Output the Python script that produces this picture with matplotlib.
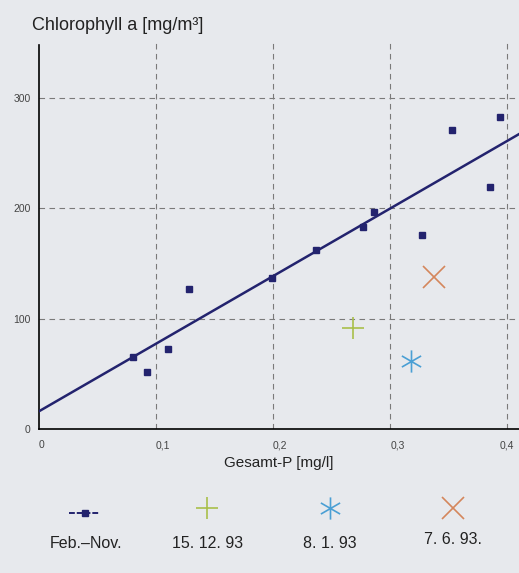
import matplotlib.pyplot as plt
from matplotlib.path import Path
import numpy as np

plt.rcParams['font.family'] = ['Liberation Sans', 'DejaVu Sans']

# Feb.-Nov. Messwerte
gesamt_p = [0.080, 0.092, 0.110, 0.128, 0.199, 0.237, 0.277, 0.286, 0.327, 0.353, 0.385, 0.394]
chl_a = [65, 52, 72, 127, 137, 162, 183, 196, 176, 271, 219, 282]

# Regressionsgerade
intercept = 16
slope = 612

# Sternsymbol mit senkrechtem Arm
c30, s30 = np.cos(np.pi / 6), 0.5
stern = Path([(0, -1), (0, 1), (-c30, -s30), (c30, s30), (-c30, s30), (c30, -s30)],
             [Path.MOVETO, Path.LINETO] * 3)

# Einzeltermine
einzel_labels = ["15. 12. 93", "8. 1. 93", "7. 6. 93."]
einzel_p = [0.268, 0.318, 0.337]
einzel_chl = [91, 62, 138]
einzel_marker = ["+", stern, "x"]
einzel_farbe = ["#a9bf4a", "#4a9fd4", "#d4865c"]

x_ticks = [0, 0.1, 0.2, 0.3, 0.4]
x_ticklabels = ["0", "0,1", "0,2", "0,3", "0,4"]
y_ticks = [0, 100, 200, 300]

bg = "#e7e9ed"
navy = "#23236e"

fig = plt.figure(figsize=(5.19, 5.73), dpi=100, facecolor=bg)
ax = fig.add_axes([0.075, 0.2513, 0.925, 0.6787])
ax.set_facecolor(bg)
ax.set_xlim(0, 0.41)
ax.set_ylim(0, 352)

# Gitter
for xt in x_ticks[1:]:
    ax.axvline(xt, color="#7a7a7a", lw=0.8, ls=(0, (5, 4)), zorder=1)
for yt in y_ticks[1:]:
    ax.axhline(yt, color="#7a7a7a", lw=0.8, ls=(0, (5, 4)), zorder=1)

for s in ["top", "right"]:
    ax.spines[s].set_visible(False)
ax.spines["left"].set_linewidth(1.2)
ax.spines["bottom"].set_linewidth(1.2)
ax.spines["left"].set_bounds(0, 348)

xs = np.array([0, 0.41])
ax.plot(xs, intercept + slope * xs, color=navy, lw=1.8, zorder=3)
ax.plot(gesamt_p, chl_a, ls="none", marker="s", ms=5, color=navy, zorder=4)

for p, c, m, f in zip(einzel_p, einzel_chl, einzel_marker, einzel_farbe):
    ax.plot(p, c, ls="none", marker=m, ms=16, mew=1.2, color=f, zorder=4)

ax.set_xticks(x_ticks)
ax.set_xticklabels(x_ticklabels, fontsize=7.5)
ax.set_yticks(y_ticks)
ax.set_yticklabels([str(v) for v in y_ticks], fontsize=7.5)
ax.tick_params(length=0, pad=6, colors="#444444")
ax.tick_params(axis="x", pad=8)
xlbls = ax.get_xticklabels()
for lbl in xlbls[:-1]:
    lbl.set_horizontalalignment("left")
xlbls[-1].set_horizontalalignment("center")

ax.set_xlabel("Gesamt-P [mg/l]", fontsize=11, color="#222222", labelpad=4)
fig.text(0.062, 0.948, "Chlorophyll a [mg/m\u00b3]", fontsize=13, color="#222222")

# Legende unterhalb
lax = fig.add_axes([0, 0, 1, 0.2])
lax.set_xlim(0, 1)
lax.set_ylim(0, 1)
lax.axis("off")
col_x = [0.163, 0.399, 0.636, 0.872]
lax.plot([col_x[0] - 0.03, col_x[0] + 0.03], [0.52, 0.52], color=navy, lw=1.4,
         ls=(0, (3, 1)), marker="none")
lax.plot(col_x[0], 0.52, marker="s", ms=4, color=navy)
lax.text(col_x[0] + 0.003, 0.22, "Feb.\u2013Nov.", ha="center", fontsize=11.5, color="#222222")
for i, (lab, m, f) in enumerate(zip(einzel_labels, einzel_marker, einzel_farbe)):
    lax.plot(col_x[i + 1], 0.57, ls="none", marker=m, ms=16, mew=1.2, color=f)
    lax.text(col_x[i + 1], 0.22 + 0.03 * (i == 2), lab, ha="center", fontsize=11.5, color="#222222")

fig.savefig("out.png", dpi=100, facecolor=bg)
